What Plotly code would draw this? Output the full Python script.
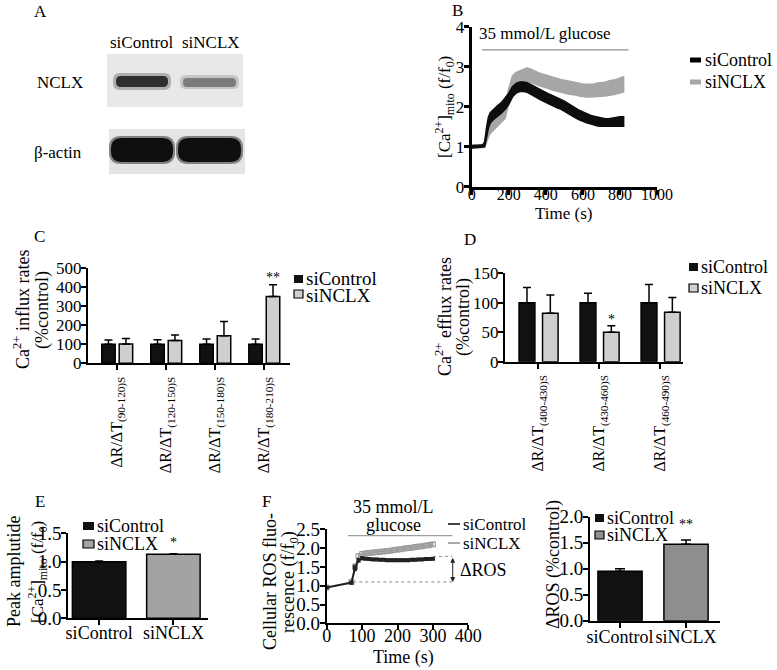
import plotly.graph_objects as go

W, H = 777, 670
FONT = "Liberation Serif, Times New Roman, DejaVu Serif, serif"

# ---------------- data ----------------
series_names = ["siControl", "siNCLX"]

# Panel B: mitochondrial Ca2+ trace
b_time = [0, 20, 40, 60, 70, 80, 90, 100, 120, 140, 160, 180, 200, 220, 240, 260, 280, 300,
          320, 340, 360, 380, 400, 420, 440, 460, 480, 500, 520, 540, 560, 580, 600, 620,
          640, 660, 680, 700, 720, 740, 760, 780, 800, 820]
b_ctrl = [1.00, 1.00, 1.01, 1.02, 1.06, 1.35, 1.60, 1.72, 1.82, 1.90, 1.97, 2.07, 2.20, 2.37,
          2.46, 2.50, 2.50, 2.48, 2.43, 2.37, 2.32, 2.27, 2.22, 2.18, 2.14, 2.10, 2.06, 2.02,
          1.96, 1.90, 1.84, 1.79, 1.75, 1.71, 1.68, 1.65, 1.63, 1.61, 1.60, 1.60, 1.61, 1.62,
          1.63, 1.63]
b_ctrl_err = [0.03, 0.03, 0.03, 0.03, 0.06, 0.13, 0.14, 0.13, 0.13, 0.13, 0.13, 0.14, 0.14, 0.13,
              0.12, 0.12, 0.12, 0.12, 0.12, 0.12, 0.12, 0.12, 0.13, 0.13, 0.13, 0.13, 0.12, 0.12,
              0.12, 0.12, 0.12, 0.12, 0.12, 0.11, 0.11, 0.11, 0.11, 0.10, 0.10, 0.10, 0.11, 0.11,
              0.12, 0.12]
b_nclx = [1.00, 1.00, 1.00, 1.01, 1.03, 1.22, 1.38, 1.48, 1.58, 1.68, 1.77, 1.88, 2.25, 2.60,
          2.70, 2.74, 2.78, 2.80, 2.77, 2.73, 2.69, 2.66, 2.63, 2.60, 2.57, 2.54, 2.52, 2.50,
          2.48, 2.46, 2.45, 2.43, 2.41, 2.40, 2.40, 2.41, 2.42, 2.43, 2.44, 2.46, 2.48, 2.50,
          2.53, 2.56]
b_nclx_err = [0.03, 0.03, 0.03, 0.03, 0.05, 0.12, 0.14, 0.15, 0.16, 0.16, 0.16, 0.17, 0.20, 0.17,
              0.16, 0.16, 0.16, 0.17, 0.17, 0.16, 0.16, 0.16, 0.16, 0.16, 0.16, 0.16, 0.16, 0.16,
              0.16, 0.16, 0.16, 0.16, 0.16, 0.16, 0.16, 0.16, 0.17, 0.17, 0.17, 0.18, 0.18, 0.18,
              0.19, 0.19]
b_xticks = [0, 200, 400, 600, 800, 1000]

# Panel C: influx rates
c_cats = ["ΔR/ΔT<sub>(90-120)S</sub>", "ΔR/ΔT<sub>(120-150)S</sub>",
          "ΔR/ΔT<sub>(150-180)S</sub>", "ΔR/ΔT<sub>(180-210)S</sub>"]
c_ctrl = [100, 100, 100, 100]
c_ctrl_err = [22, 24, 28, 28]
c_nclx = [102, 120, 145, 352]
c_nclx_err = [29, 29, 75, 62]

# Panel D: efflux rates
d_cats = ["ΔR/ΔT<sub>(400-430)S</sub>", "ΔR/ΔT<sub>(430-460)S</sub>", "ΔR/ΔT<sub>(460-490)S</sub>"]
d_ctrl = [100, 100, 100]
d_ctrl_err = [26, 16, 31]
d_nclx = [82, 50, 84]
d_nclx_err = [31, 11, 25]

# Panel E: peak amplitude
e_vals = [1.00, 1.13]
e_err = [0.01, 0.01]

# Panel F left: ROS trace
f_time_ctrl = [0, 70, 80, 90, 100, 110, 120, 130, 140, 150, 160, 170, 180, 190, 200, 210, 220,
               230, 240, 250, 260, 270, 280, 290, 300]
f_ctrl = [0.95, 1.08, 1.47, 1.68, 1.73, 1.72, 1.71, 1.70, 1.70, 1.69, 1.69, 1.68, 1.68, 1.68,
          1.68, 1.68, 1.68, 1.68, 1.69, 1.69, 1.70, 1.70, 1.71, 1.71, 1.72]
f_ctrl_err = [0.02, 0.03, 0.07, 0.05, 0.04, 0.03, 0.03, 0.03, 0.03, 0.03, 0.03, 0.03, 0.03, 0.03,
              0.03, 0.03, 0.03, 0.03, 0.03, 0.03, 0.03, 0.03, 0.03, 0.03, 0.03]
f_time_nclx = f_time_ctrl
f_nclx = [0.95, 1.10, 1.50, 1.78, 1.84, 1.86, 1.87, 1.88, 1.89, 1.90, 1.91, 1.92, 1.93, 1.95,
          1.96, 1.97, 1.99, 2.00, 2.01, 2.03, 2.04, 2.05, 2.07, 2.08, 2.10]
f_nclx_err = [0.02, 0.03, 0.08, 0.07, 0.06, 0.05, 0.05, 0.05, 0.05, 0.05, 0.05, 0.05, 0.05, 0.05,
              0.05, 0.05, 0.05, 0.05, 0.05, 0.05, 0.05, 0.05, 0.05, 0.05, 0.05]
f_ros_top = 1.78
f_ros_base = 1.10

# Panel F right: delta ROS
g_vals = [0.95, 1.47]
g_err = [0.05, 0.08]

for a, b in [(b_time, b_ctrl), (b_time, b_ctrl_err), (b_time, b_nclx), (b_time, b_nclx_err),
             (f_time_ctrl, f_ctrl), (f_time_ctrl, f_ctrl_err), (f_time_nclx, f_nclx),
             (f_time_nclx, f_nclx_err)]:
    assert len(a) == len(b), (len(a), len(b))

# ---------------- helpers ----------------
def px(x):
    return x / W


def py(y):
    return 1 - y / H


def dom_x(a, b):
    return [a / W, b / W]


def dom_y(top, bottom):
    return [1 - bottom / H, 1 - top / H]


annotations = []
shapes = []


def text(x, y, s, size=17, angle=0, xanchor="center", yanchor="middle", color="black"):
    annotations.append(dict(x=px(x), y=py(y), xref="paper", yref="paper", text=s,
                            showarrow=False, textangle=angle, xanchor=xanchor,
                            yanchor=yanchor, font=dict(family=FONT, size=size, color=color)))


def rrect(x0, y0, x1, y1, r, fill):
    pts = (f"M{px(x0 + r)},{py(y0)} L{px(x1 - r)},{py(y0)} Q{px(x1)},{py(y0)} {px(x1)},{py(y0 + r)} "
           f"L{px(x1)},{py(y1 - r)} Q{px(x1)},{py(y1)} {px(x1 - r)},{py(y1)} "
           f"L{px(x0 + r)},{py(y1)} Q{px(x0)},{py(y1)} {px(x0)},{py(y1 - r)} "
           f"L{px(x0)},{py(y0 + r)} Q{px(x0)},{py(y0)} {px(x0 + r)},{py(y0)} Z")
    shapes.append(dict(type="path", path=pts, xref="paper", yref="paper", fillcolor=fill,
                       line=dict(width=0), layer="above"))


def rect(x0, y0, x1, y1, fill, lw=0, lc="black"):
    shapes.append(dict(type="rect", x0=px(x0), x1=px(x1), y0=py(y1), y1=py(y0), xref="paper",
                       yref="paper", fillcolor=fill, line=dict(width=lw, color=lc), layer="above"))


def hline(x0, x1, y, color, width):
    shapes.append(dict(type="line", x0=px(x0), x1=px(x1), y0=py(y), y1=py(y), xref="paper",
                       yref="paper", line=dict(color=color, width=width), layer="above"))


fig = go.Figure()

BLACK = "#111111"
C_GRAY = "#cfcfcf"
E_GRAY = "#a3a3a3"
F_GRAY = "#8e8e8e"

# ---------------- Panel B ----------------
def band(t, m, e, color, ax):
    up = [v + d for v, d in zip(m, e)]
    lo = [v - d for v, d in zip(m, e)]
    fig.add_trace(go.Scatter(x=list(t) + list(t)[::-1], y=up + lo[::-1], fill="toself",
                             fillcolor=color, line=dict(color=color, width=1.5), mode="lines",
                             xaxis="x" + ax, yaxis="y" + ax, showlegend=False, hoverinfo="skip"))

band(b_time, b_nclx, b_nclx_err, "#a6a6a6", "")
band(b_time, b_ctrl, b_ctrl_err, "#0d0d0d", "")

# ---------------- Panels C / D bars ----------------
def bars(vals, errs, color, ax, offset, width, name):
    fig.add_trace(go.Bar(x=list(range(len(vals))), y=vals, offset=offset, width=width,
                         marker=dict(color=color, line=dict(color="black", width=1.5)),
                         error_y=dict(type="data", array=errs, arrayminus=[0] * len(errs),
                                      symmetric=False, color="black", thickness=1.5, width=4),
                         xaxis="x" + ax, yaxis="y" + ax, showlegend=False, name=name))

bars(c_ctrl, c_ctrl_err, BLACK, "2", -0.31, 0.275, series_names[0])
bars(c_nclx, c_nclx_err, C_GRAY, "2", 0.046, 0.275, series_names[1])
bars(d_ctrl, d_ctrl_err, BLACK, "3", -0.31, 0.26, series_names[0])
bars(d_nclx, d_nclx_err, C_GRAY, "3", 0.075, 0.255, series_names[1])

# ---------------- Panel E ----------------
fig.add_trace(go.Bar(x=[0, 1], y=e_vals, width=0.72,
                     marker=dict(color=[BLACK, E_GRAY], line=dict(color="black", width=1.5)),
                     error_y=dict(type="data", array=e_err, arrayminus=[0, 0], symmetric=False,
                                  color="black", thickness=1.5, width=4),
                     xaxis="x4", yaxis="y4", showlegend=False))

# ---------------- Panel F left ----------------
fig.add_trace(go.Scatter(x=f_time_nclx, y=f_nclx, mode="lines+markers",
                         line=dict(color="#9a9a9a", width=1.5),
                         marker=dict(symbol="square-open", size=5, color="#9a9a9a"),
                         error_y=dict(type="data", array=f_nclx_err, color="#9a9a9a",
                                      thickness=1, width=2),
                         xaxis="x5", yaxis="y5", showlegend=False, name=series_names[1]))
fig.add_trace(go.Scatter(x=f_time_ctrl, y=f_ctrl, mode="lines+markers",
                         line=dict(color="#222222", width=2),
                         marker=dict(symbol="square", size=4, color="#222222"),
                         error_y=dict(type="data", array=f_ctrl_err, color="#222222",
                                      thickness=1, width=2),
                         xaxis="x5", yaxis="y5", showlegend=False, name=series_names[0]))

# ---------------- Panel F right ----------------
fig.add_trace(go.Bar(x=[0, 1], y=g_vals, width=0.67,
                     marker=dict(color=[BLACK, F_GRAY], line=dict(color="black", width=1.5)),
                     error_y=dict(type="data", array=g_err, arrayminus=[0, 0], symmetric=False,
                                  color="black", thickness=1.5, width=5),
                     xaxis="x6", yaxis="y6", showlegend=False))

# ---------------- axes ----------------
def tf(size):
    return dict(family=FONT, size=size, color="black")

base = dict(showline=True, linecolor="black", linewidth=2, ticks="outside", ticklen=5,
            tickwidth=2, tickcolor="black", showgrid=False, zeroline=False,
            tickfont=tf(17), fixedrange=True, automargin=False)
ybase = dict(base, ticklabelstandoff=-4)

layout_axes = dict(
    xaxis=dict(base, domain=dom_x(471.7, 657), range=[0, 1000], tickvals=b_xticks,
               linewidth=3, tickwidth=2.5, anchor="y", tickfont=tf(16), tickangle=0,
               ticklabelstandoff=-14),
    yaxis=dict(ybase, domain=dom_y(26.7, 186.7), range=[0, 4], dtick=1, linewidth=3,
               tickwidth=2.5, anchor="x", tickfont=tf(17)),
    xaxis2=dict(base, domain=dom_x(88, 290), range=[-0.59, 3.53], tickmode="array",
                tickvals=list(range(len(c_cats))), ticktext=c_cats, tickangle=-90, anchor="y2",
                tickfont=tf(16)),
    yaxis2=dict(ybase, domain=dom_y(268.3, 363.3), range=[0, 500], dtick=100, anchor="x2"),
    xaxis3=dict(base, domain=dom_x(505, 683), range=[-0.54, 2.377], tickmode="array",
                tickvals=list(range(len(d_cats))), ticktext=d_cats, tickangle=-90, anchor="y3",
                tickfont=tf(16)),
    yaxis3=dict(ybase, domain=dom_y(273.3, 361.7), range=[0, 150], dtick=50, anchor="x3"),
    xaxis4=dict(base, domain=dom_x(68.3, 208), range=[-0.415, 1.466], tickmode="array",
                tickvals=[0, 1], ticktext=series_names, anchor="y4", tickfont=tf(18),
                tickangle=0, ticklabelstandoff=-8),
    yaxis4=dict(ybase, domain=dom_y(533.3, 618.3), range=[0, 1.5], dtick=0.5, tickformat=".1f",
                anchor="x4", tickfont=tf(19)),
    xaxis5=dict(base, domain=dom_x(326.7, 468.3), range=[0, 400], dtick=100, anchor="y5",
                tickfont=tf(18), tickangle=0, ticklabelstandoff=-10),
    yaxis5=dict(ybase, domain=dom_y(529.3, 623.3), range=[0, 2.5], dtick=0.5, tickformat=".1f",
                anchor="x5", tickfont=tf(19)),
    xaxis6=dict(base, domain=dom_x(590, 720), range=[-0.455, 1.515], tickmode="array",
                tickvals=[0, 1], ticktext=series_names, anchor="y6", tickfont=tf(18),
                tickangle=0, ticklabelstandoff=-6),
    yaxis6=dict(ybase, domain=dom_y(516.7, 620.7), range=[0, 2.0], dtick=0.5, tickformat=".1f",
                anchor="x6", tickfont=tf(19)),
)

# ---------------- Panel A (western blot) ----------------
text(40, 11, "A", 17)
text(142, 43, "siControl", 17)
text(211, 43, "siNCLX", 17)
text(60, 82, "NCLX", 17)
text(58, 152, "β-actin", 17)
rect(107, 54, 243, 107, "#e8e8e8")
rect(109, 129, 245, 174, "#e4e4e4")
rrect(113, 73, 171, 90, 7, "rgba(70,70,70,0.35)")
rrect(116, 76, 168, 87, 5, "#2e2e2e")
rrect(180, 75, 239, 89, 6, "rgba(120,120,120,0.30)")
rrect(183, 78, 236, 87, 4, "#7c7c7c")
rrect(109, 136, 175, 164, 12, "rgba(30,30,30,0.5)")
rrect(111, 138, 173, 162, 11, "#0f0f0f")
rrect(176, 136, 243, 164, 12, "rgba(30,30,30,0.5)")
rrect(178, 138, 241, 162, 11, "#0f0f0f")

# ---------------- Panel B texts ----------------
text(457, 10, "B", 17)
text(545, 33, "35 mmol/L glucose", 17)
shapes.append(dict(type="line", xref="x", yref="y", x0=55, x1=847, y0=3.42, y1=3.42,
                   line=dict(color="#777777", width=1)))
text(444, 107, "[Ca<sup>2+</sup>]<sub>mito</sub> (f/f<sub>0</sub>)", 17, angle=-90)
text(563, 213, "Time (s)", 17)
hline(690, 701, 60, "#000000", 5)
text(703, 60, series_names[0], 18, xanchor="left")
hline(690, 701, 82, "#a6a6a6", 5)
text(703, 82, series_names[1], 18, xanchor="left")

# ---------------- Panel C texts ----------------
text(39, 237, "C", 17)
text(21, 310, "Ca<sup>2+</sup> influx rates", 18, angle=-90)
text(42, 310, "(%control)", 18, angle=-90)
rect(294, 275, 303, 283, BLACK)
text(304, 278.5, series_names[0], 19, xanchor="left")
rect(294, 290, 303, 298, C_GRAY, 1.2)
text(304, 295, series_names[1], 19, xanchor="left")
annotations.append(dict(x=3 + 0.184, y=c_nclx[3] + c_nclx_err[3], xref="x2", yref="y2", text="**",
                        showarrow=False, yanchor="bottom", yshift=-2, font=tf(14)))

# ---------------- Panel D texts ----------------
text(470, 240, "D", 17)
text(443, 317, "Ca<sup>2+</sup> efflux rates", 18, angle=-90)
text(463, 317, "(%control)", 18, angle=-90)
rect(689, 263, 698, 271, BLACK)
text(699, 267, series_names[0], 18, xanchor="left")
rect(689, 284, 698, 292, C_GRAY, 1.2)
text(699, 288, series_names[1], 18, xanchor="left")
annotations.append(dict(x=1 + 0.2025, y=d_nclx[1] + d_nclx_err[1], xref="x3", yref="y3", text="*",
                        showarrow=False, yanchor="bottom", yshift=-3, font=tf(14)))

# ---------------- Panel E texts ----------------
text(40, 501, "E", 17)
text(14, 572, "Peak amplutide", 18, angle=-90)
text(37, 572, "[Ca<sup>2+</sup>]<sub>mito</sub> (f/f<sub>0</sub>)", 17, angle=-90)
rect(83, 522, 94, 530, BLACK)
text(95, 526, series_names[0], 18, xanchor="left")
rect(83, 540, 94, 548, E_GRAY, 1.2)
text(95, 544, series_names[1], 18, xanchor="left")
annotations.append(dict(x=1, y=e_vals[1] + e_err[1], xref="x4", yref="y4", text="*",
                        showarrow=False, yanchor="bottom", yshift=2, font=tf(14)))

# ---------------- Panel F left texts ----------------
text(266, 501, "F", 17)
text(393, 507, "35 mmol/L", 18)
text(393, 525, "glucose", 18)
shapes.append(dict(type="line", xref="x5", yref="y5", x0=60, x1=355, y0=2.33, y1=2.33,
                   line=dict(color="#888888", width=1)))
shapes.append(dict(type="line", xref="x5", yref="y5", x0=300, x1=355, y0=f_ros_top,
                   y1=f_ros_top, line=dict(color="#888888", width=1, dash="dot")))
shapes.append(dict(type="line", xref="x5", yref="y5", x0=75, x1=355, y0=f_ros_base,
                   y1=f_ros_base, line=dict(color="#888888", width=1, dash="dot")))
annotations.append(dict(x=356, y=f_ros_base, ax=356, ay=f_ros_top, xref="x5", yref="y5",
                        axref="x5", ayref="y5", text="", showarrow=True, arrowhead=2,
                        arrowside="end+start", arrowsize=1, arrowwidth=1, arrowcolor="#222222"))
text(458, 570, "ΔROS", 18, xanchor="left")
text(270, 582, "Cellular ROS fluo-", 18, angle=-90)
text(289, 582, "rescence (f/f<sub>0</sub>)", 18, angle=-90)
text(403, 657, "Time (s)", 18)
hline(448, 460, 524, "#444444", 2)
text(461, 524, series_names[0], 17, xanchor="left")
hline(448, 460, 543, "#aaaaaa", 2)
text(461, 543, series_names[1], 17, xanchor="left")

# ---------------- Panel F right texts ----------------
text(553, 565, "ΔROS (%control)", 18, angle=-90)
rect(595, 514, 604, 522, BLACK)
text(605, 518, series_names[0], 18, xanchor="left")
rect(595, 531, 604, 539, F_GRAY, 1.2)
text(605, 535, series_names[1], 18, xanchor="left")
annotations.append(dict(x=1, y=g_vals[1] + g_err[1], xref="x6", yref="y6", text="**",
                        showarrow=False, yanchor="bottom", yshift=6, font=tf(14)))

fig.update_layout(
    template="none",
    width=W, height=H, margin=dict(l=0, r=0, t=0, b=0, pad=0), autosize=False,
    paper_bgcolor="white", plot_bgcolor="white", showlegend=False,
    font=dict(family=FONT, color="black"), barmode="overlay",
    annotations=annotations, shapes=shapes, **layout_axes,
)

fig.write_html("out.html", config={"displayModeBar": False},
               post_script="document.body.style.margin='0';document.body.style.overflow='hidden';")
